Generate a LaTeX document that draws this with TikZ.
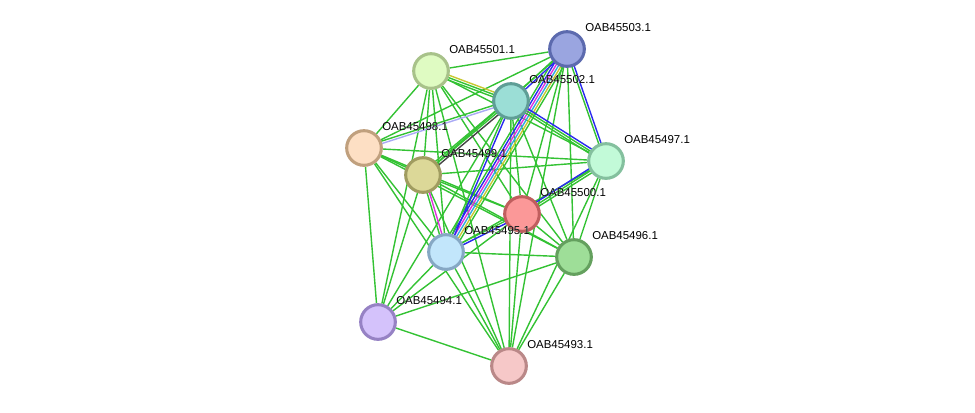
\documentclass[tikz,border=0pt]{standalone}
\usepackage{fontspec}
\setsansfont{Liberation Sans}
\usepackage{tikz}
\usepackage[outline]{contour}
\usetikzlibrary{calc}
\contourlength{1.2pt}

\definecolor{egreen}{HTML}{33C233}
\definecolor{eblue}{HTML}{2A2AEE}
\definecolor{emag}{HTML}{DD33DD}
\definecolor{ecyan}{HTML}{33AADD}
\definecolor{eyellow}{HTML}{C8C832}
\definecolor{elav}{HTML}{AAAAF5}
\definecolor{egray}{HTML}{444444}
% node fill / rim
\definecolor{f493}{HTML}{F6C8C8}\definecolor{r493}{HTML}{BA8888}
\definecolor{f494}{HTML}{D4C2FB}\definecolor{r494}{HTML}{9682C4}
\definecolor{f495}{HTML}{C2E6FB}\definecolor{r495}{HTML}{86A8C4}
\definecolor{f496}{HTML}{9EDE98}\definecolor{r496}{HTML}{64A05E}
\definecolor{f497}{HTML}{C2FAD8}\definecolor{r497}{HTML}{84C09E}
\definecolor{f498}{HTML}{FDDFC4}\definecolor{r498}{HTML}{C0A07E}
\definecolor{f499}{HTML}{DCD898}\definecolor{r499}{HTML}{A09C60}
\definecolor{f500}{HTML}{FB9898}\definecolor{r500}{HTML}{C05E5E}
\definecolor{f501}{HTML}{DFFBC2}\definecolor{r501}{HTML}{A8C28A}
\definecolor{f502}{HTML}{9BDED6}\definecolor{r502}{HTML}{5F9E96}
\definecolor{f503}{HTML}{9AA5E0}\definecolor{r503}{HTML}{5C6AAE}

\pgfdeclarelayer{background}
\pgfsetlayers{background,main}

\tikzset{
  prot/.style={circle, draw=r#1, fill=f#1, line width=2.3pt, minimum size=26pt, inner sep=0pt},
  lbl/.style={anchor=west, inner sep=0pt, font=\sffamily\fontsize{8.6}{9}\selectfont},
  edge/.style={line width=1.05pt, #1},
}

\begin{document}
\begin{tikzpicture}[x=0.75pt, y=-0.75pt]
\useasboundingbox (0, 0) rectangle (975, 412);
%Proteins
\foreach \n/\x/\y in {493/509/366, 494/378/322, 495/446/252, 496/574/257,
  497/606/161, 498/364/148, 499/423/175, 500/522/214, 501/431/71,
  502/511/101, 503/567/49}
  \node[prot=\n] (n\n) at (\x, \y) {};

\begin{pgfonlayer}{background}
%Green edges
\foreach \a/\b in {503/501, 503/498, 503/499, 503/500, 503/496, 503/493,
  501/498, 501/499, 501/495, 501/500, 501/497, 501/496, 501/494, 501/493,
  502/500, 502/496, 502/494, 502/493,
  498/499, 498/495, 498/500, 498/497, 498/496, 498/494, 498/493,
  499/500, 499/497, 499/496, 499/494, 499/493,
  497/496, 497/495, 497/493,
  500/496, 500/494, 500/493,
  495/496, 495/494, 495/493,
  496/494, 496/493, 494/493}
  \draw[edge=egreen] (n\a) -- (n\b);
%Bundles
\foreach \a/\b/\c/\o in {
  503/495/egreen/-4.5pt, 503/495/eblue/-2.7pt, 503/495/emag/-0.9pt,
  503/495/ecyan/0.9pt, 503/495/eyellow/2.7pt, 503/495/egreen/4.5pt,
  502/495/egreen/-0.9pt, 502/495/eblue/0.9pt,
  502/497/egreen/-1.8pt, 502/497/egreen/0pt, 502/497/eblue/1.8pt,
  503/497/egreen/-0.9pt, 503/497/eblue/0.9pt,
  503/502/egreen/-0.9pt, 503/502/eblue/0.9pt,
  500/497/egreen/-1.8pt, 500/497/egreen/0pt, 500/497/eblue/1.8pt,
  500/495/egreen/-0.9pt, 500/495/eblue/0.9pt,
  499/495/egreen/-0.9pt, 499/495/emag/0.9pt,
  502/499/egreen/-1.8pt, 502/499/egreen/0pt, 502/499/egray/1.8pt,
  502/498/egreen/-0.9pt, 502/498/elav/0.9pt,
  501/502/egreen/-1.8pt, 501/502/egreen/0pt, 501/502/eyellow/1.8pt}
  \draw[edge=\c] ($(n\a)!\o!90:(n\b)$) -- ($(n\b)!\o!-90:(n\a)$);
\end{pgfonlayer}

%Text
\foreach \n in {493, 494, 495, 496, 497, 498, 499, 500, 501, 502, 503}
  \node[lbl] (t\n) at ([shift={(18, -21)}]n\n.center) {\contour{white}{OAB45\n.1}};
\end{tikzpicture}
\end{document}
